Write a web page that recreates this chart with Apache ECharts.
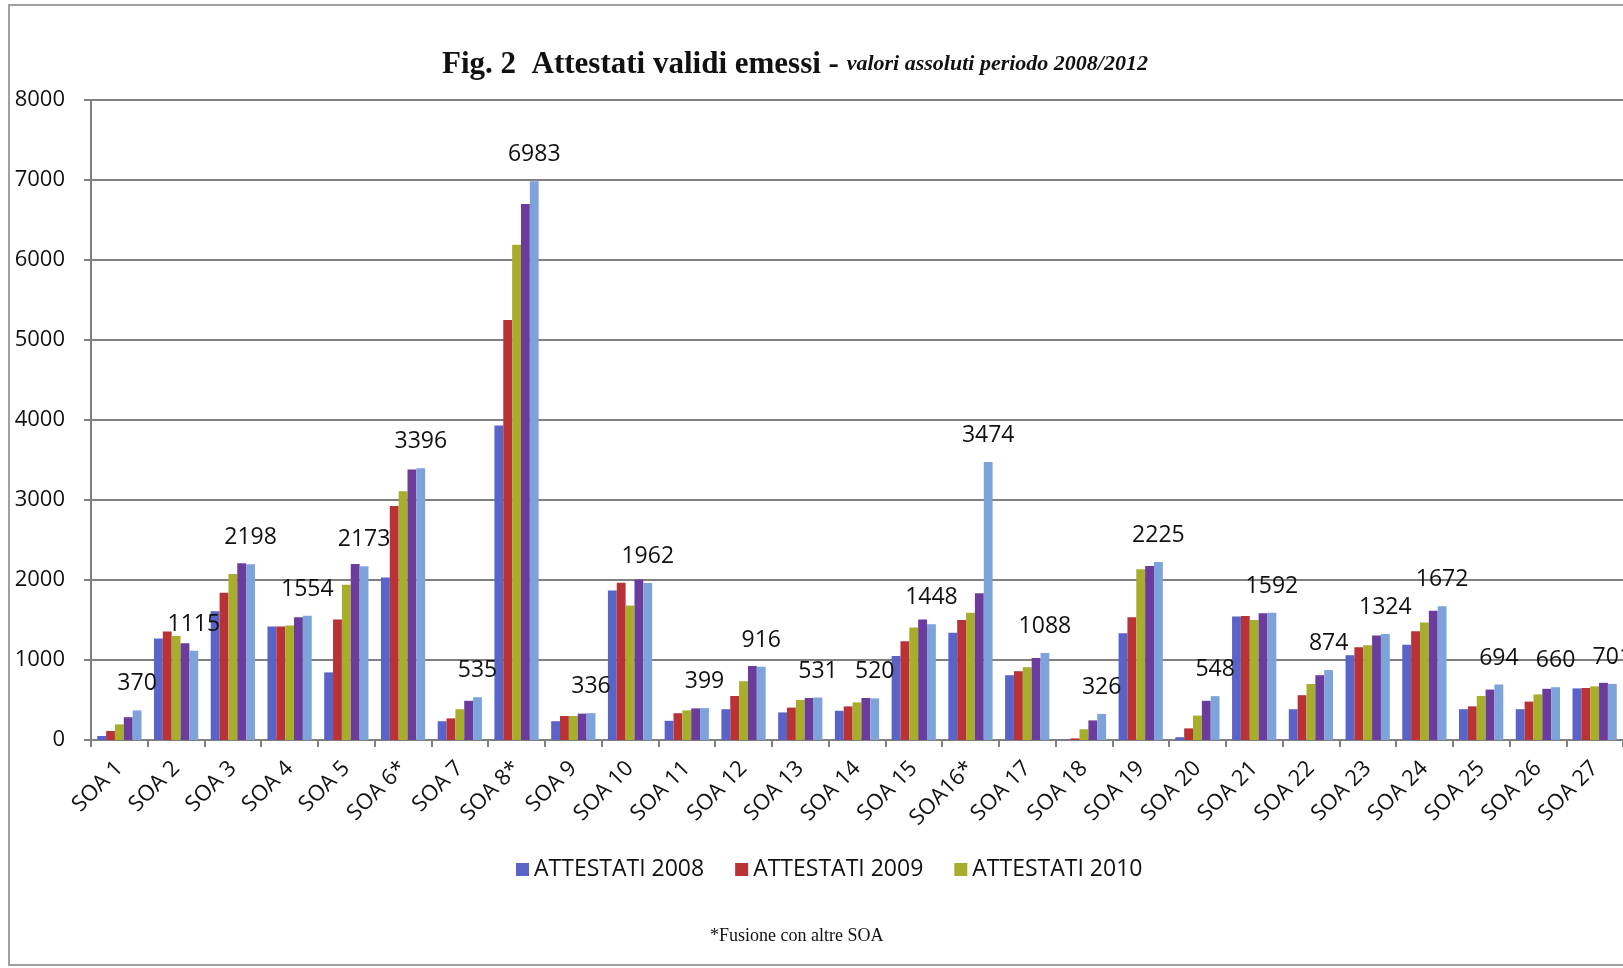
<!DOCTYPE html>
<html>
<head>
<meta charset="utf-8">
<script src="https://cdn.jsdelivr.net/npm/echarts@6/dist/echarts.min.js"></script>
<style>
html,body{margin:0;padding:0;background:#fff;}
#chart{width:1623px;height:968px;}
</style>
</head>
<body>
<div id="chart"></div>
<script>
const categories = ['SOA 1','SOA 2','SOA 3','SOA 4','SOA 5','SOA 6*','SOA 7','SOA 8*','SOA 9','SOA 10','SOA 11','SOA 12','SOA 13','SOA 14','SOA 15','SOA16*','SOA 17','SOA 18','SOA 19','SOA 20','SOA 21','SOA 22','SOA 23','SOA 24','SOA 25','SOA 26','SOA 27'];
const seriesNames = ['ATTESTATI 2008','ATTESTATI 2009','ATTESTATI 2010','ATTESTATI 2011','ATTESTATI 2012'];
const legendNames = ['ATTESTATI 2008','ATTESTATI 2009','ATTESTATI 2010'];
const att2008 = [50,1270,1610,1420,845,2030,235,3930,235,1870,240,385,345,365,1050,1340,810,5,1335,35,1545,385,1060,1190,385,385,645];
const att2009 = [112,1355,1840,1420,1505,2925,270,5250,300,1965,335,550,405,420,1235,1500,860,20,1535,145,1550,560,1160,1360,420,480,650];
const att2010 = [195,1300,2075,1430,1940,3110,385,6190,300,1680,370,735,500,470,1405,1590,910,135,2135,305,1500,700,1185,1470,550,570,670];
const att2011 = [285,1210,2210,1535,2200,3380,490,6700,330,2005,395,925,525,525,1505,1835,1025,245,2175,490,1585,810,1305,1615,630,640,715];
const att2012 = [370,1115,2198,1554,2173,3396,535,6983,336,1962,399,916,531,520,1448,3474,1088,326,2225,548,1592,874,1324,1672,694,660,701];
const yTicks = {min:0, max:8000, interval:1000};
const colors = ['#5A64C8','#B83236','#A6AE2C','#6B3C9C','#7EA3DB'];

const values = [att2008, att2009, att2010, att2011, att2012];
const SANS = '"Open Sans", sans-serif';
const SERIF = '"Liberation Serif", serif';

const series = values.map((arr, i) => ({
  name: seriesNames[i],
  type: 'bar',
  data: arr,
  barGap: '0%',
  barCategoryGap: '22%',
  itemStyle: {color: colors[i]},
  label: i === 4 ? {
    show: true, position: 'top', distance: 15,
    fontFamily: SANS, fontSize: 23, color: '#111'
  } : {show: false},
  z: 2
}));

const chart = echarts.init(document.getElementById('chart'), null, {renderer: 'canvas'});
chart.setOption({
  animation: false,
  backgroundColor: '#fff',
  color: colors,
  title: {
    text: '{b|Fig. 2  Attestati validi emessi - }{i|valori assoluti periodo 2008/2012}',
    left: 790, top: 44, textAlign: 'center',
    textStyle: {
      rich: {
        b: {fontFamily: SERIF, fontWeight: 'bold', fontSize: 31, color: '#111'},
        i: {fontFamily: SERIF, fontStyle: 'italic', fontWeight: 'bold', fontSize: 22, color: '#111'}
      }
    }
  },
  legend: {
    data: legendNames,
    left: 511, top: 853,
    itemWidth: 13, itemHeight: 13, itemGap: 31,
    icon: 'rect',
    textStyle: {fontFamily: SANS, fontSize: 23, color: '#111'}
  },
  grid: {left: 91, right: 0, top: 100, bottom: 228, containLabel: false},
  xAxis: {
    type: 'category',
    data: categories,
    axisLine: {lineStyle: {color: '#808080', width: 2}},
    axisTick: {show: true, alignWithLabel: false, length: 7, lineStyle: {color: '#808080', width: 2}},
    axisLabel: {rotate: 45, margin: 25, fontFamily: SANS, fontSize: 22, color: '#111', interval: 0}
  },
  yAxis: {
    type: 'value',
    min: yTicks.min, max: yTicks.max, interval: yTicks.interval,
    axisLine: {show: true, lineStyle: {color: '#808080', width: 2}},
    axisTick: {show: true, length: 7, lineStyle: {color: '#808080', width: 2}},
    splitLine: {lineStyle: {color: '#808080', width: 2}},
    axisLabel: {margin: 26, fontFamily: SANS, fontSize: 22, color: '#111', formatter: v => String(v)}
  },
  series: series,
  graphic: [
    {type: 'rect', shape: {x: 9, y: 5, width: 1640, height: 960},
     style: {fill: 'none', stroke: '#a0a0a0', lineWidth: 2}, z: -1},
    {type: 'text', left: 797 - 87, top: 927,
     style: {text: '*Fusione con altre SOA', font: '18px "Liberation Serif", serif', fill: '#111'}}
  ]
});
</script>
</body>
</html>
